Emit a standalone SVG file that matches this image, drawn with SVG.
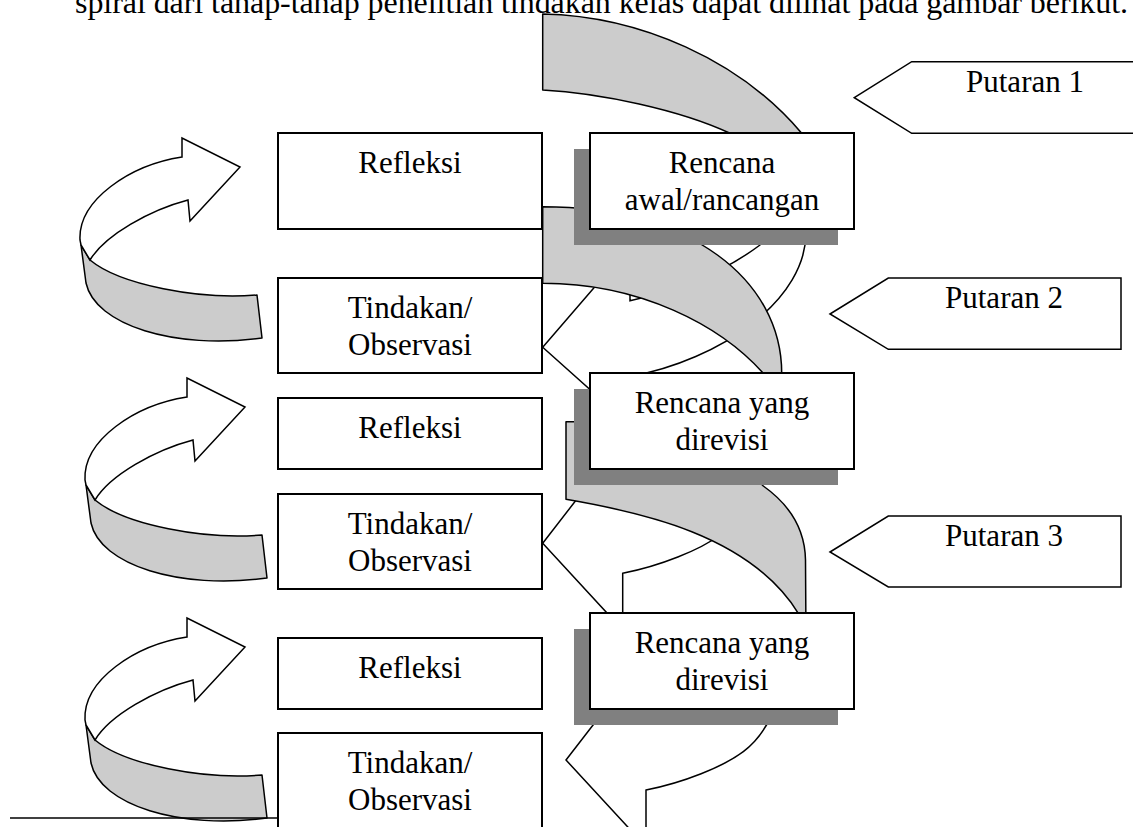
<svg xmlns="http://www.w3.org/2000/svg" width="1133" height="827" viewBox="0 0 1133 827">
<style>
.box{fill:#fff;stroke:#000;stroke-width:2}
.shadow{fill:#808080}
.band{fill:#ccc;stroke:#000;stroke-width:1.5;stroke-linejoin:round}
.face{fill:#fff;stroke:#000;stroke-width:1.5;stroke-linejoin:miter}
.lbl{font-family:"Liberation Serif","Times New Roman",serif;font-size:31px;text-anchor:middle;fill:#000}
.hdr{font-family:"Liberation Serif","Times New Roman",serif;font-size:32px;fill:#000}
</style>
<defs>
<g id="loop">
<path class="band" d="M81,245 L86,283 C95,325 175,350 262,338 L257,295 C200,300 120,285 90,260 Z"/>
<path class="face" d="M81,245 L80,240 C78,200 130,165 182,157 L182,138 L240,167 L190,221 L188,200 C150,210 105,235 90,260 Z"/>
</g>
</defs>
<rect width="1133" height="827" fill="#fff"/>
<text class="hdr" x="75" y="13" textLength="1053">spiral dari tahap-tahap penelitian tindakan kelas dapat dilihat pada gambar berikut.</text>
<g id="connectors">
<use href="#loop"/>
<use href="#loop" transform="translate(5,240)"/>
<use href="#loop" transform="translate(5,480)"/>
<path class="face" d="M542.7,347.3 L630,246 L630,300.7 C670,292 720,275 760,245 L770,215 L806,215 L806,230 C808,300 720,360 630,376.5 L630,425.4 Z"/>
<path class="face" d="M542.7,543.3 L622.7,439.8 L622.7,495 C660,488 700,475 730,455 L758,470 C752,495 740,520 720,535 C700,550 660,566 622.7,573.3 L622.7,630 Z"/>
<path class="face" transform="translate(23.3,216.7)" d="M542.7,543.3 L622.7,439.8 L622.7,495 C660,488 700,475 730,455 L758,470 C752,495 740,520 720,535 C700,550 660,566 622.7,573.3 L622.7,630 Z"/>
<path class="band" d="M542.7,14 C640,16 740,60 801.7,133.3 L815,160 L740,160 L730,133.3 C680,110 600,93 542.7,90 Z"/>
<path class="band" d="M542.7,206.7 C690,206.7 781.7,280 781.7,373.3 L781.7,400 L770,400 L763.3,373.3 C720,325 640,283.3 542.7,283.3 Z"/>
<path class="band" d="M566,421.7 L700,421.7 L763.3,486 C790,505 805,530 805.5,560 L806,640 L798.3,640 L798.3,613.3 C750,535 640,512 566,499.3 Z"/>
</g>
<g id="refleksi1"><rect class="box" x="278" y="133" width="264" height="96"/><text class="lbl" x="410" y="173">Refleksi</text></g>
<g id="tindakan1"><rect class="box" x="278" y="278" width="264" height="95"/><text class="lbl" x="410" y="318">Tindakan/</text><text class="lbl" x="410" y="355">Observasi</text></g>
<g id="refleksi2"><rect class="box" x="278" y="398" width="264" height="71"/><text class="lbl" x="410" y="438">Refleksi</text></g>
<g id="tindakan2"><rect class="box" x="278" y="494" width="264" height="95"/><text class="lbl" x="410" y="534">Tindakan/</text><text class="lbl" x="410" y="571">Observasi</text></g>
<g id="refleksi3"><rect class="box" x="278" y="638" width="264" height="71"/><text class="lbl" x="410" y="678">Refleksi</text></g>
<g id="tindakan3"><rect class="box" x="278" y="733" width="264" height="120"/><text class="lbl" x="410" y="773">Tindakan/</text><text class="lbl" x="410" y="810">Observasi</text></g>
<g id="rencana1"><rect class="shadow" x="574" y="149" width="264" height="96"/><rect class="box" x="590" y="133" width="264" height="96"/><text class="lbl" x="722" y="173">Rencana</text><text class="lbl" x="722" y="210">awal/rancangan</text></g>
<g id="rencana2"><rect class="shadow" x="574" y="389" width="264" height="96"/><rect class="box" x="590" y="373" width="264" height="96"/><text class="lbl" x="722" y="413">Rencana yang</text><text class="lbl" x="722" y="450">direvisi</text></g>
<g id="rencana3"><rect class="shadow" x="574" y="629" width="264" height="96"/><rect class="box" x="590" y="613" width="264" height="96"/><text class="lbl" x="722" y="653">Rencana yang</text><text class="lbl" x="722" y="690">direvisi</text></g>
<g id="putaran1"><polygon class="box" style="stroke-width:1.5" points="854.3,97.7 911.7,61.7 1145,61.7 1145,133.3 911.7,133.3"/><text class="lbl" x="1025" y="92">Putaran 1</text></g>
<g id="putaran2"><polygon class="box" style="stroke-width:1.5" points="830,314 888.3,278 1121,278 1121,349.3 888.3,349.3"/><text class="lbl" x="1004" y="308">Putaran 2</text></g>
<g id="putaran3"><polygon class="box" style="stroke-width:1.5" points="830,552 888.3,516 1121,516 1121,587 888.3,587"/><text class="lbl" x="1004" y="546">Putaran 3</text></g>
<line x1="10" y1="818" x2="278" y2="818" stroke="#000" stroke-width="1.5"/>
</svg>
